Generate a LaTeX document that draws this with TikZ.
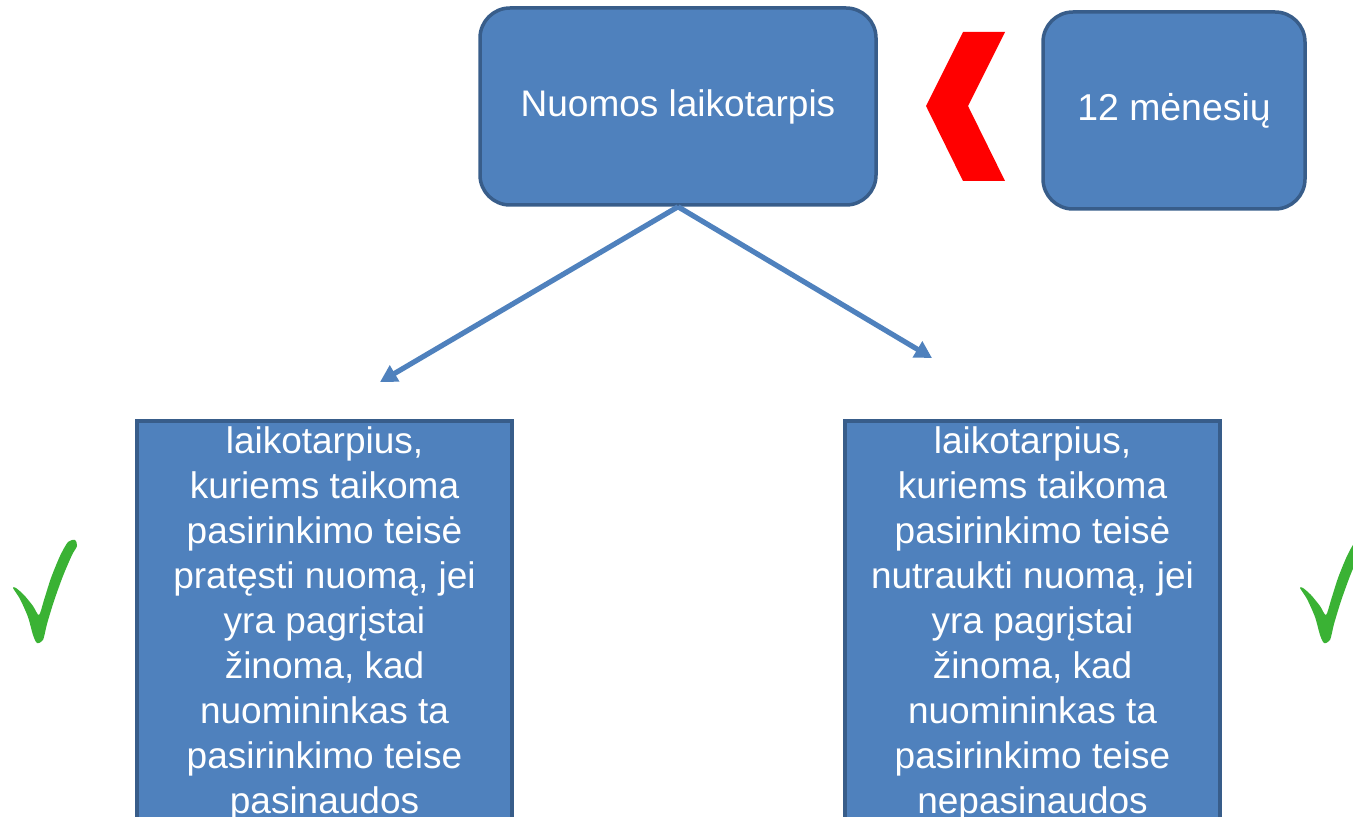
\documentclass[tikz,border=0pt]{standalone}
\usepackage{fontspec}
\setmainfont{Liberation Sans}
\usetikzlibrary{arrows.meta}
\definecolor{boxfill}{HTML}{4F81BD}
\definecolor{boxline}{HTML}{385D8A}
\definecolor{tickgreen}{RGB}{58,178,52}
\definecolor{chevred}{RGB}{255,0,0}
\begin{document}
\begin{tikzpicture}[x=0.5pt,y=-0.5pt,
  roundbox/.style={draw=boxline, fill=boxfill, line width=1.75pt,
    rounded corners=15pt, text=white, align=center, inner sep=0pt},
  squarebox/.style={draw=boxline, fill=boxfill, line width=1.75pt,
    text=white, align=center, inner sep=0pt,
    minimum width=187.5pt, minimum height=203pt,
    font=\fontsize{18.5}{22.5}\selectfont},
  conn/.style={draw=boxfill, line width=2.6pt,
    -{Triangle[length=8.5pt,width=9pt]}},
  tick/.style={fill=tickgreen, draw=none}
]
\useasboundingbox (0,0) rectangle (1353,817);
\clip (0,0) rectangle (1353,817);

% top row: period box, chevron, duration box
\node[roundbox, minimum width=198pt, minimum height=98.5pt,
  font=\fontsize{18.5}{22}\selectfont] (period) at (678,106.5) {\raisebox{-1.5pt}{Nuomos laikotarpis}};
\node[roundbox, minimum width=131pt, minimum height=98.5pt,
  font=\fontsize{18.7}{22}\selectfont] (months) at (1174,110.5) {\raisebox{-3pt}{12 mėnesių}};
\fill[chevred] (1005,32) -- (963,32) -- (926,106) -- (963,181) -- (1005,181) -- (968,106) -- cycle;

% lower boxes
\node[squarebox] (extend) at (324.5,624) {laikotarpius,\\kuriems taikoma\\pasirinkimo teisė\\pratęsti nuomą, jei\\yra pagrįstai\\žinoma, kad\\nuomininkas ta\\pasirinkimo teise\\pasinaudos};
\node[squarebox] (terminate) at (1032.5,624) {laikotarpius,\\kuriems taikoma\\pasirinkimo teisė\\nutraukti nuomą, jei\\yra pagrįstai\\žinoma, kad\\nuomininkas ta\\pasirinkimo teise\\nepasinaudos};

% connectors
\coordinate (leftend) at (380,382);
\coordinate (rightend) at (932,358);
\draw[conn] (period.south) -- (leftend);
\draw[conn] (period.south) -- (rightend);

% check marks
\fill[tick] plot[smooth cycle, tension=0.45] coordinates {
  (13,588) (20,599) (28,617) (33,635) (37,643) (43,640)
  (47,624) (54,601) (63,576) (72,555) (77,546) (75,540) (68,542)
  (60,556) (51,578) (44,600) (39,615) (33,606) (24,595) (16,588)};
\begin{scope}[shift={(1287,0)}]
\fill[tick] plot[smooth cycle, tension=0.45] coordinates {
  (13,588) (20,599) (28,617) (33,635) (37,643) (43,640)
  (47,624) (54,601) (63,576) (72,555) (77,546) (75,540) (68,542)
  (60,556) (51,578) (44,600) (39,615) (33,606) (24,595) (16,588)};
\end{scope}
\end{tikzpicture}
\end{document}
